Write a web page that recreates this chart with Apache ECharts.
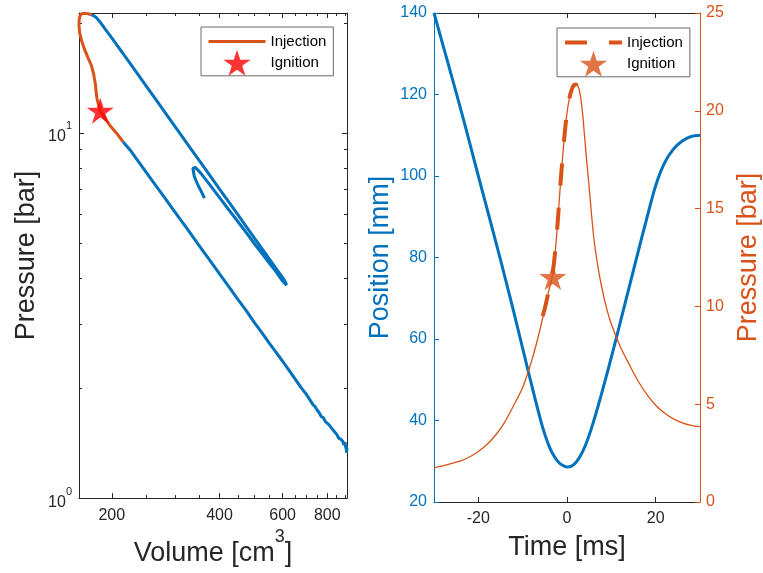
<!DOCTYPE html>
<html><head><meta charset="utf-8">
<script src="https://cdn.jsdelivr.net/npm/echarts@6/dist/echarts.min.js"></script>
<style>html,body{margin:0;padding:0;background:#fff}#c{width:763px;height:573px}</style>
</head><body><div id="c"></div>
<script>
// ---------- Left panel: P-V diagram (log-log) ----------
const compressV = [904, 908, 901, 906, 897, 900, 890, 884, 878, 872, 866, 860, 852, 845, 838, 832, 824, 815, 808, 800, 790, 780, 770, 760, 750, 740, 730, 720, 700, 675, 650, 625, 600, 575, 550, 525, 500, 475, 450, 425, 400, 375, 350, 325, 300, 280, 260, 240, 225, 215];
const compressP = [1.33, 1.36, 1.39, 1.35, 1.40, 1.42, 1.40, 1.43, 1.42, 1.45, 1.44, 1.46, 1.49, 1.50, 1.52, 1.51, 1.55, 1.56, 1.59, 1.60, 1.62, 1.66, 1.67, 1.71, 1.74, 1.78, 1.80, 1.84, 1.92, 2.01, 2.12, 2.24, 2.37, 2.51, 2.66, 2.84, 3.03, 3.26, 3.50, 3.79, 4.11, 4.49, 4.93, 5.46, 6.08, 6.68, 7.38, 8.23, 8.98, 9.46];
const injectV = [215, 206, 197.4, 190, 185.8, 183.5, 181.9, 180.8, 179.8, 178, 175.4, 171.5, 168, 165, 162.7, 162, 162.2, 163, 164.5, 168, 172, 175.4];
const injectP = [9.46, 10.0, 10.5, 11.1, 11.5, 12.0, 12.4, 13.0, 13.7, 14.5, 15.3, 16.1, 16.9, 17.8, 18.8, 19.7, 20.4, 20.9, 21.2, 21.25, 21.2, 21.05];
const expandV = [175.4, 178, 181, 185, 192, 200, 215, 230, 250, 270, 290, 310, 330, 350, 375, 400, 425, 450, 475, 500, 525, 550, 575, 600, 608, 613, 615, 612, 600, 575, 550, 525, 500, 475, 450, 425, 400, 375, 355, 342, 337, 340, 348, 356, 363];
const expandP = [21.05, 20.95, 20.7, 20.2, 19.2, 18.2, 16.5, 15.04, 13.41, 12.06, 10.93, 9.97, 9.15, 8.44, 7.67, 7.02, 6.46, 5.97, 5.54, 5.16, 4.83, 4.53, 4.26, 4.02, 3.94, 3.88, 3.83, 3.81, 3.93, 4.17, 4.41, 4.68, 4.98, 5.33, 5.72, 6.15, 6.65, 7.23, 7.75, 8.05, 8.0, 7.6, 7.2, 6.9, 6.63];
const ignitionPV = [185.8, 11.5];
const volMajorTicks = [200, 400, 600, 800];
const volMinorTicks = [250, 300, 350, 450, 500, 550, 650, 700, 750, 850, 900];
const presMajorTicks = [1, 10];
const presMinorTicks = [2, 3, 4, 5, 6, 7, 8, 9, 20];

// ---------- Right panel: position & pressure vs time ----------
const timeMs = [-30, -28, -26, -24, -22, -20, -18, -16, -14, -12, -10, -8, -6, -5, -4, -3, -2, -1, 0, 1, 2, 3, 4, 5, 6, 7, 8, 9, 10, 12, 14, 16, 18, 20, 22, 24, 26, 28, 30];
const positionMm = [140, 132.2, 124.4, 116.5, 108.3, 100, 91.8, 83.6, 75.2, 66.6, 57.7, 48.8, 40.3, 36.6, 33.6, 31.4, 29.9, 29.0, 28.6, 28.8, 29.7, 31.3, 33.5, 36.4, 39.8, 43.5, 47.4, 51.4, 55.5, 64.0, 72.6, 81.2, 89.6, 97.6, 103.2, 106.6, 108.6, 109.7, 110.0];
const pTimeMs = [-30, -28, -26, -24, -22, -20, -18, -16, -14, -12, -10, -8, -7, -6, -5, -4, -3.5, -3, -2.5, -2, -1.5, -1, -0.5, 0, 0.5, 1, 1.5, 2, 2.5, 3, 3.5, 4, 4.5, 5, 6, 7, 8, 9, 10, 12, 14, 16, 18, 20, 22, 24, 26, 28, 30];
const pressureBar = [1.75, 1.85, 1.97, 2.1, 2.3, 2.58, 2.95, 3.45, 4.1, 4.95, 5.85, 7.2, 8.0, 8.9, 9.9, 10.9, 11.3, 12.1, 13.2, 14.6, 16.2, 17.6, 18.9, 19.9, 20.6, 21.05, 21.3, 21.35, 21.25, 20.8, 19.9, 18.6, 17.3, 16.1, 13.6, 12.0, 10.8, 9.85, 9.1, 7.95, 7.05, 6.2, 5.5, 4.95, 4.55, 4.25, 4.05, 3.92, 3.85];
const injTimeMs = [-5.5, -5, -4, -3.5, -3, -2.5, -2, -1.5, -1, -0.5, 0, 0.5, 1, 1.5, 2, 2.3];
const injPressureBar = [9.5, 9.9, 10.9, 11.3, 12.1, 13.2, 14.6, 16.2, 17.6, 18.9, 19.9, 20.6, 21.05, 21.3, 21.35, 21.3];
const ignitionTP = [-3.2, 11.5];
const timeTicks = [-20, 0, 20];

const AX = '#262626', BLUE = '#0072BD', ORANGE = '#D95319';
const FONT = '"Liberation Sans", Arial, Helvetica, sans-serif';
const NAME_SIZE = 27;
const STAR = 'path://M0,-10L2.245,-3.09L9.511,-3.09L3.633,1.18L5.878,8.09L0,3.82L-5.878,8.09L-3.633,1.18L-9.511,-3.09L-2.245,-3.09Z';
const zip = (a, b) => a.map((v, i) => [v, b[i]]);

function tickAxis(base, pos, values, len, showLine, color) {
  return Object.assign({}, base, {
    position: pos,
    axisLine: {show: showLine, onZero: false, lineStyle: {color: color || AX, width: 1}},
    axisTick: {show: true, inside: true, length: len, customValues: values, lineStyle: {color: color || AX, width: 1}},
    axisLabel: {show: false},
    splitLine: {show: false}
  });
}

const volBase = {gridIndex: 0, type: 'log', logBase: 10, min: 162, max: 908};
const presBase = {gridIndex: 0, type: 'log', logBase: 10, min: 1, max: 21.3};
const timeBase = {gridIndex: 1, type: 'value', min: -30, max: 30};

const xMain = tickAxis(volBase, 'bottom', volMajorTicks, 5, true);
xMain.axisLabel = {show: true, customValues: volMajorTicks, color: AX, fontSize: 16, margin: 9, fontFamily: FONT};
xMain.name = '{a|Volume [cm}{s|3}{a|]}';
xMain.nameLocation = 'middle';
xMain.nameGap = 1;
xMain.nameTextStyle = {color: AX, fontFamily: FONT, rich: {
  a: {fontSize: NAME_SIZE, color: AX, fontFamily: FONT, lineHeight: 28, padding: [12, 0, 0, 0]},
  s: {fontSize: 18, color: AX, fontFamily: FONT, lineHeight: 18, padding: [0, 0, 22, 0]}
}};

const yMain = tickAxis(presBase, 'left', presMajorTicks, 5, true);
yMain.axisLabel = {show: true, customValues: presMajorTicks, margin: 7, fontFamily: FONT,
  formatter: v => '{b|10}{s|' + Math.round(Math.log10(v)) + '}',
  rich: {b: {fontSize: 16, color: AX, fontFamily: FONT, lineHeight: 16, padding: [8, 0, 0, 0]},
         s: {fontSize: 11, color: AX, fontFamily: FONT, lineHeight: 11, padding: [0, 0, 13, 0]}}};
yMain.name = 'Pressure [bar]';
yMain.nameLocation = 'middle';
yMain.nameGap = 39;
yMain.nameTextStyle = {fontSize: NAME_SIZE, color: AX, fontFamily: FONT};

const tMain = tickAxis(timeBase, 'bottom', timeTicks, 5, true);
tMain.axisLabel = {show: true, customValues: timeTicks, color: AX, fontSize: 16, margin: 9, fontFamily: FONT};
tMain.name = 'Time [ms]';
tMain.nameLocation = 'middle';
tMain.nameGap = 32;
tMain.nameTextStyle = {fontSize: NAME_SIZE, color: AX, fontFamily: FONT};

const posAxis = {gridIndex: 1, type: 'value', position: 'left', min: 20, max: 140, interval: 20,
  axisLine: {show: true, onZero: false, lineStyle: {color: BLUE}},
  axisTick: {show: true, inside: true, length: 5, lineStyle: {color: BLUE}},
  axisLabel: {color: BLUE, fontSize: 16, margin: 7, fontFamily: FONT},
  splitLine: {show: false},
  name: 'Position [mm]', nameLocation: 'middle', nameGap: 40,
  nameTextStyle: {fontSize: NAME_SIZE, color: BLUE, fontFamily: FONT}};
const presAxis = {gridIndex: 1, type: 'value', position: 'right', min: 0, max: 25, interval: 5,
  axisLine: {show: true, onZero: false, lineStyle: {color: ORANGE}},
  axisTick: {show: true, inside: true, length: 5, lineStyle: {color: ORANGE}},
  axisLabel: {color: ORANGE, fontSize: 16, margin: 6, fontFamily: FONT},
  splitLine: {show: false},
  name: 'Pressure [bar]', nameLocation: 'middle', nameGap: 35,
  nameTextStyle: {fontSize: NAME_SIZE, color: ORANGE, fontFamily: FONT}};

const legendCommon = {orient: 'vertical', itemWidth: 57, itemHeight: 26, itemGap: -2,
  padding: [4, 7, 0, 6], borderColor: '#6a6a6a', borderWidth: 1, backgroundColor: '#fff',
  selectedMode: false, textStyle: {fontSize: 15, color: '#000', fontFamily: FONT}};

const option = {
  animation: false,
  backgroundColor: '#fff',
  textStyle: {fontFamily: FONT},
  grid: [
    {left: 79, top: 13, width: 268, height: 489, containLabel: false},
    {left: 434, top: 13, width: 267, height: 489, containLabel: false}
  ],
  xAxis: [
    xMain,
    tickAxis(volBase, 'bottom', volMinorTicks, 3, false),
    tickAxis(volBase, 'top', volMajorTicks, 5, true),
    tickAxis(volBase, 'top', volMinorTicks, 3, false),
    tMain,
    tickAxis(timeBase, 'top', timeTicks, 5, true)
  ],
  yAxis: [
    yMain,
    tickAxis(presBase, 'left', presMinorTicks, 3, false),
    tickAxis(presBase, 'right', presMajorTicks, 5, true),
    tickAxis(presBase, 'right', presMinorTicks, 3, false),
    posAxis,
    presAxis
  ],
  legend: [
    Object.assign({}, legendCommon, {left: 201, top: 27, lineStyle: {width: 3},
      data: [{name: 'Injection', itemStyle: {opacity: 0}}, {name: 'Ignition'}]}),
    Object.assign({}, legendCommon, {left: 557, top: 28, lineStyle: {width: 4},
      data: [{name: 'Injection ', itemStyle: {opacity: 0}}, {name: 'Ignition '}],
      formatter: n => n.trim()})
  ],
  series: [
    {name: 'Compression', type: 'line', xAxisIndex: 0, yAxisIndex: 0, data: zip(compressV, compressP),
      symbol: 'none', lineStyle: {color: BLUE, width: 3}, itemStyle: {color: BLUE}, z: 2},
    {name: 'Expansion', type: 'line', xAxisIndex: 0, yAxisIndex: 0, data: zip(expandV, expandP),
      symbol: 'none', lineStyle: {color: BLUE, width: 3}, itemStyle: {color: BLUE}, z: 2},
    {name: 'Injection', type: 'line', xAxisIndex: 0, yAxisIndex: 0, data: zip(injectV, injectP),
      symbol: 'none', lineStyle: {color: ORANGE, width: 3}, itemStyle: {color: ORANGE}, z: 3},
    {name: 'Ignition', type: 'scatter', xAxisIndex: 0, yAxisIndex: 0, data: [ignitionPV],
      symbol: STAR, symbolSize: [27, 26], itemStyle: {color: '#FF0000'}, z: 4},
    {name: 'Position', type: 'line', xAxisIndex: 4, yAxisIndex: 4, data: zip(timeMs, positionMm),
      symbol: 'none', smooth: 0.3, lineStyle: {color: BLUE, width: 3}, itemStyle: {color: BLUE}, z: 2},
    {name: 'Pressure', type: 'line', xAxisIndex: 4, yAxisIndex: 5, data: zip(pTimeMs, pressureBar),
      symbol: 'none', smooth: 0.3, lineStyle: {color: ORANGE, width: 1.3}, itemStyle: {color: ORANGE}, z: 3},
    {name: 'Injection ', type: 'line', xAxisIndex: 4, yAxisIndex: 5, data: zip(injTimeMs, injPressureBar),
      symbol: 'none', smooth: 0.3, lineStyle: {color: ORANGE, width: 4, type: [22, 22]}, itemStyle: {color: ORANGE}, z: 4},
    {name: 'Ignition ', type: 'scatter', xAxisIndex: 4, yAxisIndex: 5, data: [ignitionTP],
      symbol: STAR, symbolSize: [27, 26], itemStyle: {color: ORANGE}, z: 5}
  ]
};

const chart = echarts.init(document.getElementById('c'), null, {renderer: 'canvas'});
chart.setOption(option);
</script></body></html>
